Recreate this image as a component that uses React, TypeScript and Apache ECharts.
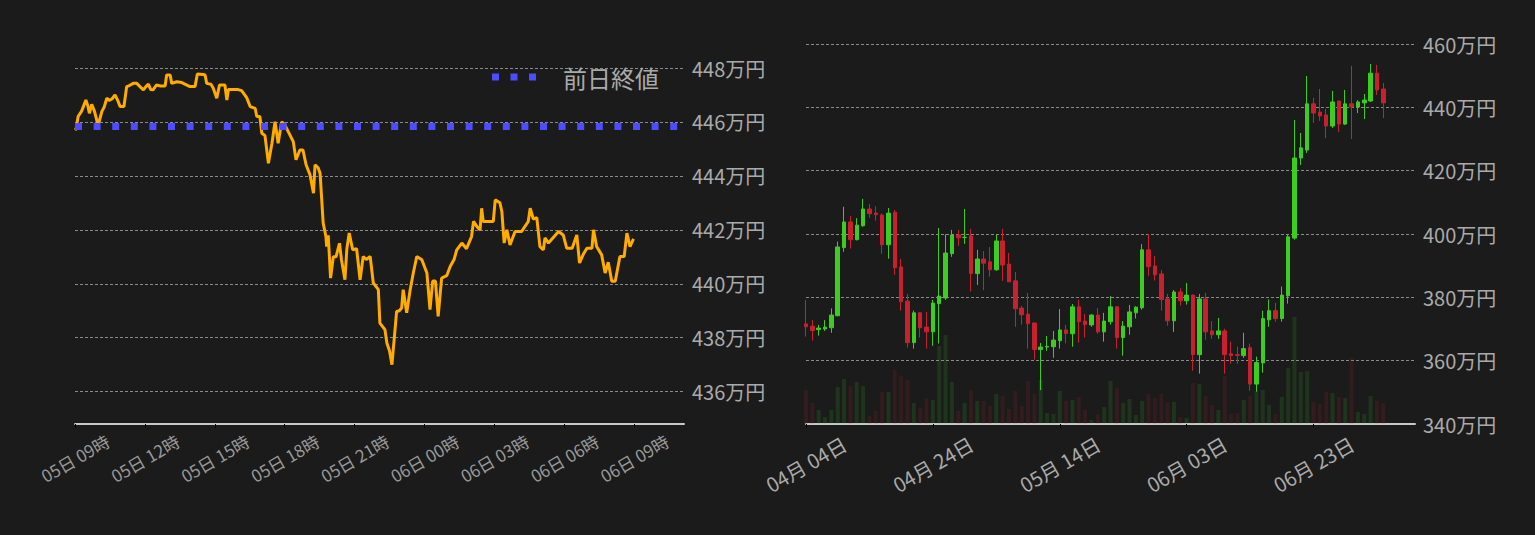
import React, { useEffect, useRef } from "react";
import * as echarts from "echarts";

const FONT = "'Noto Sans CJK JP', 'Noto Sans', sans-serif";

// ---- Left chart: intraday price (minutes since 05日 09:00, 万円) ----
const leftTimes = [
  0, 3, 8, 17, 28, 33, 37, 43, 50, 57, 62, 69, 75, 82, 88, 95, 103, 110, 116, 126,
  133, 140, 150, 159, 168, 176, 182, 189, 195, 201, 210, 220, 232, 236, 245, 249, 262, 275, 283, 296,
  309, 315, 330, 335, 339, 350, 356, 365, 372, 386, 391, 395, 420, 429, 442, 451, 464, 468, 476, 481,
  489, 498, 507, 515, 523, 532, 540, 549, 562, 569, 579, 587, 595, 605, 614, 618, 626, 631, 639, 646,
  648, 652, 658, 665, 672, 681, 686, 695, 700, 706, 715, 725, 734, 742, 750, 760, 768, 781, 785, 798,
  803, 810, 816, 824, 828, 835, 841, 845, 854, 863, 871, 880, 893, 906, 914, 921, 928, 935, 944, 957,
  966, 976, 983, 996, 1008, 1021, 1026, 1036, 1043, 1047, 1051, 1077, 1082, 1094, 1099, 1105, 1112, 1120, 1133, 1150,
  1167, 1172, 1180, 1189, 1197, 1206, 1210, 1219, 1245, 1257, 1266, 1280, 1292, 1299, 1309, 1318, 1331, 1335, 1343, 1356,
  1365, 1373, 1382, 1391, 1403, 1414, 1421, 1429, 1438,
];
const leftValues = [
  445.7, 445.75, 446.2, 446.4, 446.81, 446.6, 446.32, 446.65, 446.4, 446.01, 446.0, 446.38, 446.55, 446.88, 446.8, 446.85, 447.0, 446.8, 446.57, 446.57,
  447.31, 447.35, 447.43, 447.43, 447.3, 447.19, 447.3, 447.4, 447.2, 447.19, 447.37, 447.33, 447.33, 447.74, 447.74, 447.43, 447.49, 447.46, 447.4, 447.31,
  447.31, 447.78, 447.76, 447.74, 447.43, 447.4, 447.25, 446.88, 447.37, 447.37, 446.81, 447.2, 447.2, 447.16, 446.9, 446.57, 446.5, 446.2, 446.2, 445.58,
  445.5, 444.47, 445.2, 446.01, 445.21, 446.0, 445.9, 445.64, 445.27, 444.6, 444.96, 444.96, 444.41, 444.04, 443.36, 444.41, 444.3, 444.1, 442.25, 441.75,
  441.38, 441.8, 440.21, 441.0, 441.0, 441.5, 440.9, 440.15, 441.3, 441.88, 441.26, 441.3, 440.15, 441.01, 440.9, 441.01, 440.03, 439.78, 438.54, 438.3,
  437.8, 437.5, 437.0, 438.3, 438.97, 439.0, 439.1, 439.78, 438.92, 439.78, 440.4, 441.01, 440.89, 440.4, 439.04, 440.1, 440.1, 438.79, 440.21, 440.3,
  440.64, 440.9, 441.26, 441.51, 441.3, 441.75, 442.31, 442.1, 442.0, 442.8, 442.31, 442.31, 443.11, 443.0, 442.68, 441.51, 442.0, 441.44, 441.94, 441.94,
  442.31, 442.8, 442.4, 442.45, 441.38, 441.26, 441.7, 441.51, 441.94, 441.81, 441.32, 441.32, 441.81, 440.77, 441.1, 441.32, 441.32, 442.0, 441.38, 441.07,
  440.4, 440.8, 440.09, 440.09, 441.01, 441.01, 441.88, 441.38, 441.66,
];
const prevClose = 445.83;
const leftAxisMaxMinutes = 1568;

// ---- Right chart: daily candles [open, close, low, high] (万円) ----
const candles = [
  [371.6, 370.7, 367.6, 379.2], [370.9, 369.5, 366.3, 372.8], [369.8, 370.3, 367.9, 371.3], [370.0, 370.6, 369.4, 372.8],
  [370.4, 374.4, 368.8, 376.5], [374.2, 395.9, 374.0, 397.6], [395.7, 403.8, 394.4, 408.6], [403.8, 398.2, 395.4, 405.7],
  [398.2, 402.8, 398.0, 405.0], [402.6, 407.9, 402.3, 411.1], [407.9, 406.4, 405.1, 409.5], [406.6, 406.1, 404.2, 408.8],
  [406.0, 396.6, 393.8, 406.5], [396.6, 406.6, 392.2, 408.2], [406.9, 389.4, 387.1, 407.6], [389.6, 378.6, 375.8, 392.1],
  [378.8, 365.7, 364.1, 381.1], [365.7, 375.1, 363.8, 375.8], [375.1, 370.4, 367.3, 375.3], [370.6, 369.1, 363.8, 375.4],
  [369.1, 378.2, 364.7, 379.2], [378.0, 380.4, 365.4, 401.9], [379.8, 394.0, 379.2, 399.9], [393.8, 399.7, 392.8, 401.3],
  [399.7, 398.8, 396.3, 401.3], [398.9, 399.0, 396.9, 407.9], [399.4, 387.5, 381.8, 401.6], [387.5, 392.1, 383.9, 395.0],
  [392.1, 390.8, 382.3, 394.6], [391.2, 388.7, 386.5, 395.9], [388.7, 397.8, 388.4, 399.7], [397.8, 390.2, 385.2, 401.6],
  [390.5, 384.9, 384.9, 394.0], [385.2, 376.4, 370.7, 388.0], [376.6, 374.5, 371.4, 377.3], [374.7, 371.7, 363.8, 381.4],
  [371.9, 363.5, 360.3, 371.9], [363.5, 364.3, 350.7, 365.6], [364.3, 364.5, 363.1, 367.8], [364.4, 366.5, 360.9, 369.4],
  [366.3, 369.7, 363.8, 376.3], [369.7, 368.6, 365.5, 371.3], [368.5, 377.0, 364.4, 377.9], [377.0, 372.3, 365.7, 379.2],
  [372.5, 371.4, 367.3, 374.7], [371.3, 374.4, 370.7, 374.7], [374.4, 369.1, 368.5, 376.6], [369.1, 372.5, 366.0, 375.1],
  [372.3, 377.0, 371.4, 380.4], [377.0, 367.3, 363.8, 377.2], [367.3, 370.9, 361.6, 372.5], [370.7, 375.4, 368.2, 377.6],
  [375.1, 376.9, 373.3, 377.2], [376.7, 395.0, 376.1, 396.8], [395.0, 389.7, 386.8, 400.0], [389.9, 387.1, 385.3, 393.1],
  [387.4, 379.3, 375.8, 388.6], [379.5, 372.6, 371.0, 381.1], [372.6, 381.7, 369.1, 382.3], [381.7, 378.9, 377.4, 382.9],
  [378.9, 380.7, 377.7, 384.5], [380.7, 361.9, 356.8, 380.9], [361.9, 379.5, 355.9, 381.1], [379.5, 369.1, 366.6, 381.4],
  [369.4, 368.2, 366.9, 372.5], [368.2, 369.4, 366.9, 373.5], [369.4, 361.9, 355.9, 370.1], [362.2, 361.6, 359.0, 366.0],
  [361.9, 361.7, 359.0, 364.4], [361.6, 363.8, 360.9, 368.8], [364.1, 352.6, 350.5, 365.4], [352.6, 359.4, 350.2, 361.3],
  [359.3, 373.3, 356.2, 375.8], [372.9, 375.8, 370.7, 379.3], [375.8, 373.3, 372.3, 378.3], [373.3, 380.7, 372.3, 383.4],
  [380.5, 399.1, 378.0, 400.0], [398.7, 424.0, 398.2, 436.0], [424.0, 427.2, 421.8, 431.9], [426.5, 441.1, 425.6, 449.9],
  [441.1, 438.2, 435.1, 443.0], [438.5, 437.3, 435.7, 445.8], [437.6, 434.1, 430.3, 439.5], [434.1, 441.7, 433.5, 445.2],
  [442.0, 434.7, 432.2, 442.0], [434.7, 441.1, 434.4, 445.5], [441.1, 440.1, 430.0, 453.1], [440.1, 441.7, 438.2, 442.3],
  [441.4, 442.3, 436.3, 444.2], [442.0, 450.8, 441.7, 453.7], [450.8, 445.5, 443.9, 453.4], [445.8, 441.4, 436.6, 447.7],
];
const volumes = [
  34, 21, 14, 7, 14, 37, 45, 38, 42, 38, 8, 13, 32, 32, 54, 48, 44, 21, 16, 26,
  24, 78, 89, 42, 13, 21, 34, 23, 23, 18, 30, 28, 15, 33, 18, 43, 30, 44, 11, 10,
  33, 23, 24, 27, 14, 4, 10, 17, 43, 36, 21, 25, 9, 23, 30, 26, 30, 22, 22, 7,
  6, 41, 40, 28, 19, 14, 48, 10, 11, 24, 28, 33, 34, 19, 10, 27, 56, 107, 52, 53,
  22, 20, 32, 31, 27, 26, 66, 12, 10, 28, 23, 21,
];
const volumeAxisMax = 380;
const dayCount = 97;
const pad = (n: number) => String(n).padStart(2, "0");
const dates: string[] = [];
for (let i = 0; i < dayCount; i++) {
  const d = new Date(Date.UTC(2023, 3, 4 + i));
  dates.push(`${pad(d.getUTCMonth() + 1)}月 ${pad(d.getUTCDate())}日`);
}

const UP = "#3ccc22";
const DOWN = "#c8202e";
const UP_VOL = "rgba(60,204,34,0.14)";
const DOWN_VOL = "rgba(200,32,46,0.14)";
const SPLIT = { show: true, lineStyle: { color: "#8a8a8a", width: 1, type: [3, 2] } };
const AXIS_LINE = { show: true, lineStyle: { color: "#c8c8c8", width: 2 } };

export default function App() {
  const ref = useRef<HTMLDivElement>(null);
  useEffect(() => {
    if (!ref.current) return;
    const chart = echarts.init(ref.current, undefined, { renderer: "svg" });
    const option: any = {
      animation: false,
      backgroundColor: "#1b1b1b",
      textStyle: { fontFamily: FONT },
      legend: {
        data: [{ name: "前日終値", icon: "path://M0,0h7v7h-7z M18.5,0h7v7h-7z M37,0h7v7h-7z" }],
        left: 492,
        top: 65,
        padding: 0,
        itemWidth: 44,
        itemHeight: 7,
        selectedMode: false,
        textStyle: { color: "#aaa", fontSize: 24, fontFamily: FONT, padding: [0, 0, 0, 22] },
      },
      grid: [
        { left: 75, right: 851, top: 68, bottom: 111 },
        { left: 806, right: 120, top: 44, bottom: 111 },
      ],
      xAxis: [
        {
          type: "value",
          gridIndex: 0,
          min: 0,
          max: leftAxisMaxMinutes,
          interval: 180,
          axisLine: AXIS_LINE,
          axisTick: { show: true, length: 4, lineStyle: { color: "#000" } },
          splitLine: { show: false },
          axisLabel: {
            color: "#999",
            fontSize: 17,
            fontFamily: FONT,
            rotate: 30,
            align: "center",
            verticalAlign: "middle",
            margin: 34,
            showMaxLabel: false,
            formatter: (v: number) => {
              const total = 9 * 60 + v;
              const day = 5 + Math.floor(total / 1440);
              const hr = Math.floor((total % 1440) / 60);
              return `${pad(day)}日 ${pad(hr)}時`;
            },
          },
        },
        {
          type: "category",
          gridIndex: 1,
          data: dates,
          boundaryGap: false,
          axisLine: AXIS_LINE,
          axisTick: { show: true, length: 4, interval: 19, lineStyle: { color: "#000" } },
          splitLine: { show: false },
          axisLabel: {
            interval: 19,
            color: "#aaa",
            fontSize: 20,
            fontFamily: FONT,
            rotate: 30,
            align: "center",
            verticalAlign: "middle",
            margin: 40,
          },
        },
      ],
      yAxis: [
        {
          type: "value",
          gridIndex: 0,
          position: "right",
          min: 434.8,
          max: 448,
          splitNumber: 7,
          axisLine: { show: false },
          axisTick: { show: false },
          splitLine: SPLIT,
          axisLabel: {
            color: "#aaa",
            fontSize: 20,
            fontFamily: FONT,
            showMinLabel: false,
            formatter: (v: number) => `${v}万円`,
          },
        },
        {
          type: "value",
          gridIndex: 1,
          position: "right",
          min: 340,
          max: 460,
          interval: 20,
          axisLine: { show: false },
          axisTick: { show: false },
          splitLine: SPLIT,
          axisLabel: {
            color: "#aaa",
            fontSize: 20,
            fontFamily: FONT,
            formatter: (v: number) => `${v}万円`,
          },
        },
        { type: "value", gridIndex: 1, min: 0, max: volumeAxisMax, show: false, splitLine: { show: false } },
      ],
      series: [
        {
          name: "価格",
          type: "line",
          xAxisIndex: 0,
          yAxisIndex: 0,
          data: leftTimes.map((t, i) => [t, leftValues[i]]),
          showSymbol: false,
          symbol: "none",
          lineStyle: { color: "#ffab00", width: 3 },
          itemStyle: { color: "#ffab00" },
          z: 2,
        },
        {
          name: "前日終値",
          type: "line",
          xAxisIndex: 0,
          yAxisIndex: 0,
          data: [
            [0, prevClose],
            [leftAxisMaxMinutes, prevClose],
          ],
          symbol: "none",
          lineStyle: { color: "#4d4dff", width: 7, type: [7, 11.6], cap: "butt" },
          itemStyle: { color: "#4d4dff" },
          z: 3,
        },
        {
          name: "出来高",
          type: "bar",
          xAxisIndex: 1,
          yAxisIndex: 2,
          barWidth: 4,
          data: volumes.map((v, i) => ({
            value: v,
            itemStyle: { color: candles[i][1] >= candles[i][0] ? UP_VOL : DOWN_VOL },
          })),
          z: 1,
        },
        {
          name: "日足",
          type: "candlestick",
          xAxisIndex: 1,
          yAxisIndex: 1,
          barWidth: 4,
          data: candles,
          itemStyle: { color: UP, color0: DOWN, borderColor: UP, borderColor0: DOWN, borderWidth: 1 },
          z: 3,
        },
      ],
    };
    chart.setOption(option);
    return () => chart.dispose();
  }, []);
  return (
    <>
      <style>{`html,body{margin:0;padding:0;background:#1b1b1b;}`}</style>
      <div ref={ref} style={{ width: 1535, height: 535 }} />
    </>
  );
}
